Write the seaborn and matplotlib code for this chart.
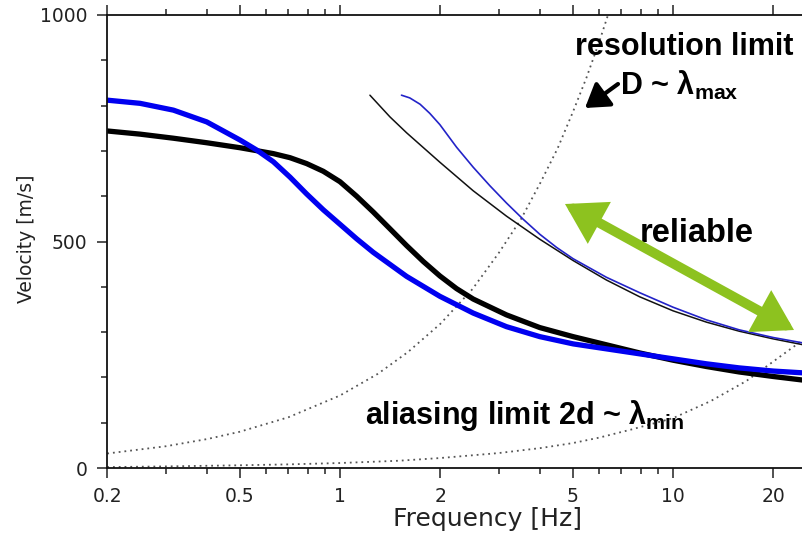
import matplotlib
matplotlib.use("Agg")
import matplotlib.pyplot as plt
import seaborn as sns
import pandas as pd
from matplotlib.ticker import LogLocator, FixedLocator, NullFormatter, FuncFormatter

# ---------------- data ----------------
thick_blue_f = [0.2, 0.251, 0.316, 0.398, 0.501, 0.562, 0.631, 0.708, 0.794, 0.891, 1.0, 1.122, 1.259, 1.585, 1.995, 2.512, 3.162, 3.981, 5.012, 6.31, 7.94, 10.0, 12.6, 15.8, 20.0, 24.6]
thick_blue_v = [812, 805, 790, 764, 724, 702, 676, 642, 605, 570, 538, 506, 476, 423, 379, 342, 312, 290, 274, 263, 252, 241, 230, 221, 214, 210]

thick_black_f = [0.2, 0.251, 0.316, 0.398, 0.501, 0.631, 0.708, 0.794, 0.891, 1.0, 1.122, 1.259, 1.413, 1.585, 1.778, 1.995, 2.239, 2.512, 3.162, 3.981, 5.012, 6.31, 7.94, 10.0, 12.6, 15.8, 20.0, 24.6]
thick_black_v = [744, 737, 728, 718, 707, 694, 685, 672, 655, 632, 600, 565, 528, 491, 456, 424, 396, 373, 338, 310, 290, 272, 254, 238, 224, 212, 202, 194]

thin_black_f = [1.23, 1.413, 1.585, 1.995, 2.512, 3.162, 3.981, 5.012, 6.31, 7.94, 10.0, 12.6, 15.8, 20.0, 24.6]
thin_black_v = [823, 775, 740, 675, 612, 556, 505, 458, 415, 378, 347, 322, 302, 285, 272]

thin_blue_f = [1.53, 1.62, 1.74, 1.86, 1.995, 2.24, 2.512, 2.82, 3.162, 3.55, 3.981, 4.47, 5.012, 6.31, 7.94, 10.0, 12.6, 15.8, 20.0, 24.6]
thin_blue_v = [823, 817, 803, 783, 758, 708, 664, 623, 585, 549, 516, 487, 462, 421, 387, 355, 327, 305, 288, 276]

resolution_f = [0.2, 0.3, 0.4, 0.5, 0.7, 1.0, 1.3, 1.6, 2.0, 2.5, 3.0, 3.5, 4.0, 4.5, 5.0, 5.5, 6.0, 6.38]
resolution_v = [32, 48, 64, 80, 112, 160, 208, 256, 318, 395, 475, 550, 630, 705, 785, 862, 940, 1000]

aliasing_f = [0.2, 0.3, 0.5, 0.7, 1.0, 1.5, 2.0, 3.0, 4.0, 5.0, 6.0, 7.5, 10.0, 13.0, 16.6, 20.0, 24.6]
aliasing_v = [2, 3.5, 6, 8, 11, 16, 22, 33, 44, 55, 67, 85, 110, 148, 192, 235, 283]

x_major = [0.2, 0.5, 1, 2, 5, 10, 20]
y_major = [0, 500, 1000]

# ---------------- style ----------------
sns.set_style("ticks")
plt.rcParams['font.family'] = ['DejaVu Sans']
plt.rcParams['mathtext.fontset'] = 'custom'
plt.rcParams['mathtext.rm'] = 'Liberation Sans:bold'
plt.rcParams['mathtext.bf'] = 'Liberation Sans:bold'
plt.rcParams['mathtext.it'] = 'Liberation Sans:bold'

fig = plt.figure(figsize=(8.03, 5.39), dpi=100)
ax = fig.add_axes([107/803, 1-468/539, 696/803, 453/539])

def df(f, v):
    return pd.DataFrame({"f": f, "v": v})

dot = (0, (1, 2.2))
sns.lineplot(data=df(resolution_f, resolution_v), x="f", y="v", ax=ax, color="#555555", lw=1.3, linestyle=dot)
sns.lineplot(data=df(aliasing_f, aliasing_v), x="f", y="v", ax=ax, color="#555555", lw=1.3, linestyle=dot)
sns.lineplot(data=df(thin_black_f, thin_black_v), x="f", y="v", ax=ax, color="#111111", lw=1.1)
sns.lineplot(data=df(thin_blue_f, thin_blue_v), x="f", y="v", ax=ax, color="#2323c8", lw=1.2)
sns.lineplot(data=df(thick_black_f, thick_black_v), x="f", y="v", ax=ax, color="#000000", lw=3.8)
sns.lineplot(data=df(thick_blue_f, thick_blue_v), x="f", y="v", ax=ax, color="#0000f0", lw=3.8)
for ln in ax.lines:
    ln.set_solid_capstyle('round')
    ln.set_solid_joinstyle('round')

ax.set_xscale("log")
ax.set_xlim(0.1997, 24.57)
ax.set_ylim(0, 1000)

ax.xaxis.set_major_locator(FixedLocator(x_major))
ax.xaxis.set_major_formatter(FuncFormatter(lambda x, p: f"{x:g}"))
ax.xaxis.set_minor_locator(LogLocator(base=10, subs=range(1, 10), numticks=20))
ax.xaxis.set_minor_formatter(NullFormatter())
ax.yaxis.set_major_locator(FixedLocator(y_major))
ax.yaxis.set_minor_locator(FixedLocator(range(0, 1001, 100)))

ax.tick_params(which='both', direction='out', top=True, right=False, colors='#222222',
               labelcolor='#222222', labelsize=13.5, width=1.1)
ax.tick_params(which='major', length=7, pad=7)
ax.tick_params(which='minor', length=4)
for s in ['left', 'bottom', 'top']:
    ax.spines[s].set_linewidth(1.3)
    ax.spines[s].set_color('#111111')
ax.spines['right'].set_visible(False)

ax.set_xlabel("Frequency [Hz]", fontsize=18, color='#222222')
ax.set_ylabel("Velocity [m/s]", fontsize=13.5, color='#222222')
ax.xaxis.set_label_coords((488-107)/696, (468-507)/453)
ax.yaxis.set_label_coords((36-107)/696, 0.505)

# ---------------- annotations ----------------
bold = dict(fontfamily='Liberation Sans', fontweight='bold', color='black', va='baseline', ha='left')
ax.text((575-107)/696, (468-55)/453, "resolution limit", transform=ax.transAxes, fontsize=22, **bold)
ax.text((620-107)/696, (468-95)/453, r"D ~ $\mathrm{\lambda}_{\mathrm{max}}$", transform=ax.transAxes, fontsize=22, **bold)
ax.text((640-107)/696, (468-242)/453, "reliable", transform=ax.transAxes, fontsize=23.5, **bold)
ax.text((365-107)/696, (468-424)/453, r"aliasing limit 2d ~ $\mathrm{\lambda}_{\mathrm{min}}$", transform=ax.transAxes, fontsize=22, **bold)

ax.annotate("", xy=((585-107)/696, (468-108)/453), xytext=((618-107)/696, (468-84)/453),
            xycoords='axes fraction', textcoords='axes fraction',
            arrowprops=dict(arrowstyle='-|>,head_length=0.7,head_width=0.45', lw=3, color='black',
                            shrinkA=0, shrinkB=0, mutation_scale=20))
ax.annotate("", xy=((565-107)/696, (468-204)/453), xytext=((794-107)/696, (468-330)/453),
            xycoords='axes fraction', textcoords='axes fraction',
            arrowprops=dict(arrowstyle='<|-|>,head_length=0.9,head_width=0.55', lw=7, color='#8dc21f',
                            shrinkA=0, shrinkB=0, mutation_scale=20, joinstyle='miter'),
            annotation_clip=False)

fig.savefig("out.png", dpi=100)
